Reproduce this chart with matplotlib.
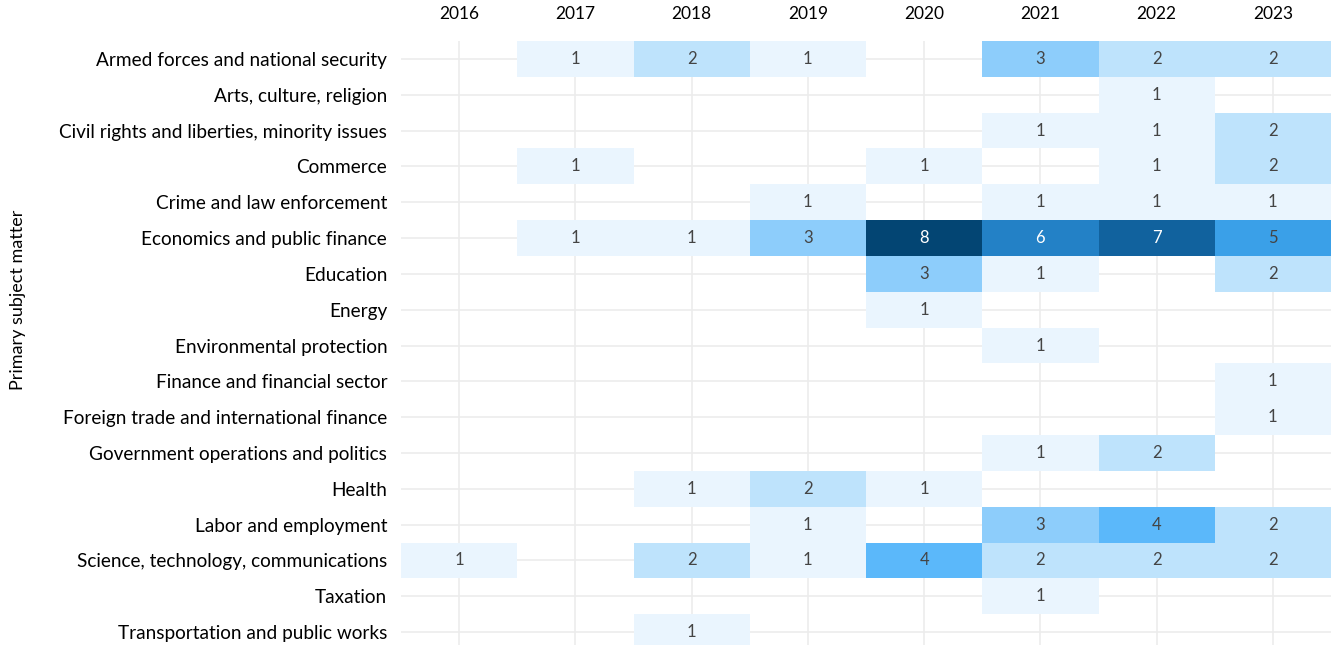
import numpy as np
import matplotlib.pyplot as plt
from matplotlib.colors import ListedColormap, BoundaryNorm

plt.rcParams['font.family'] = ['Lato', 'DejaVu Sans']

years = ['2016', '2017', '2018', '2019', '2020', '2021', '2022', '2023']
subjects = [
    'Armed forces and national security',
    'Arts, culture, religion',
    'Civil rights and liberties, minority issues',
    'Commerce',
    'Crime and law enforcement',
    'Economics and public finance',
    'Education',
    'Energy',
    'Environmental protection',
    'Finance and financial sector',
    'Foreign trade and international finance',
    'Government operations and politics',
    'Health',
    'Labor and employment',
    'Science, technology, communications',
    'Taxation',
    'Transportation and public works',
]
# counts per subject, one value per year (0 = no bills)
counts = [
    [0, 1, 2, 1, 0, 3, 2, 2],
    [0, 0, 0, 0, 0, 0, 1, 0],
    [0, 0, 0, 0, 0, 1, 1, 2],
    [0, 1, 0, 0, 1, 0, 1, 2],
    [0, 0, 0, 1, 0, 1, 1, 1],
    [0, 1, 1, 3, 8, 6, 7, 5],
    [0, 0, 0, 0, 3, 1, 0, 2],
    [0, 0, 0, 0, 1, 0, 0, 0],
    [0, 0, 0, 0, 0, 1, 0, 0],
    [0, 0, 0, 0, 0, 0, 0, 1],
    [0, 0, 0, 0, 0, 0, 0, 1],
    [0, 0, 0, 0, 0, 1, 2, 0],
    [0, 0, 1, 2, 1, 0, 0, 0],
    [0, 0, 0, 1, 0, 3, 4, 2],
    [1, 0, 2, 1, 4, 2, 2, 2],
    [0, 0, 0, 0, 0, 1, 0, 0],
    [0, 0, 1, 0, 0, 0, 0, 0],
]

shades = ['#eaf5fe', '#bee3fc', '#8dcdfb', '#5bb8fa',
          '#3aa0e8', '#2381c6', '#11629e', '#034573']
cmap = ListedColormap(shades)
norm = BoundaryNorm(np.arange(0.5, 9.5, 1), cmap.N)

data = np.array(counts, dtype=float)
masked = np.ma.masked_where(data == 0, data)

fig = plt.figure(figsize=(13.31, 6.45), dpi=100)
ax = fig.add_axes([0.3013, -0.0078, 0.6987, 0.9442])

# light grid through cell centres, drawn under the cells
for i in range(len(subjects)):
    ax.axhline(i, color='#ececec', lw=1.2, zorder=0)
for j in range(len(years)):
    ax.axvline(j, color='#ececec', lw=1.2, zorder=0)

ax.pcolormesh(np.arange(len(years) + 1) - 0.5,
              np.arange(len(subjects) + 1) - 0.5,
              masked, cmap=cmap, norm=norm, zorder=1)

for i in range(len(subjects)):
    for j in range(len(years)):
        v = counts[i][j]
        if v:
            ax.text(j, i, str(v), ha='center', va='center', fontsize=12,
                    color='white' if v >= 6 else '#444444', zorder=2)

ax.set_xlim(-0.5, len(years) - 0.5)
ax.set_ylim(len(subjects) - 0.5, -0.5)
ax.xaxis.tick_top()
ax.set_xticks(range(len(years)))
ax.set_xticklabels(years, fontsize=12.5, color='black')
ax.set_yticks(range(len(subjects)))
ax.set_yticklabels(subjects, fontsize=13.7, color='black')
ax.tick_params(axis='y', length=0, pad=10)
ax.tick_params(axis='x', length=0, pad=14)
for s in ax.spines.values():
    s.set_visible(False)

fig.text(0.0135, 0.535, 'Primary subject matter', rotation=90,
         ha='center', va='center', fontsize=13)

fig.savefig('out.png', dpi=100)
